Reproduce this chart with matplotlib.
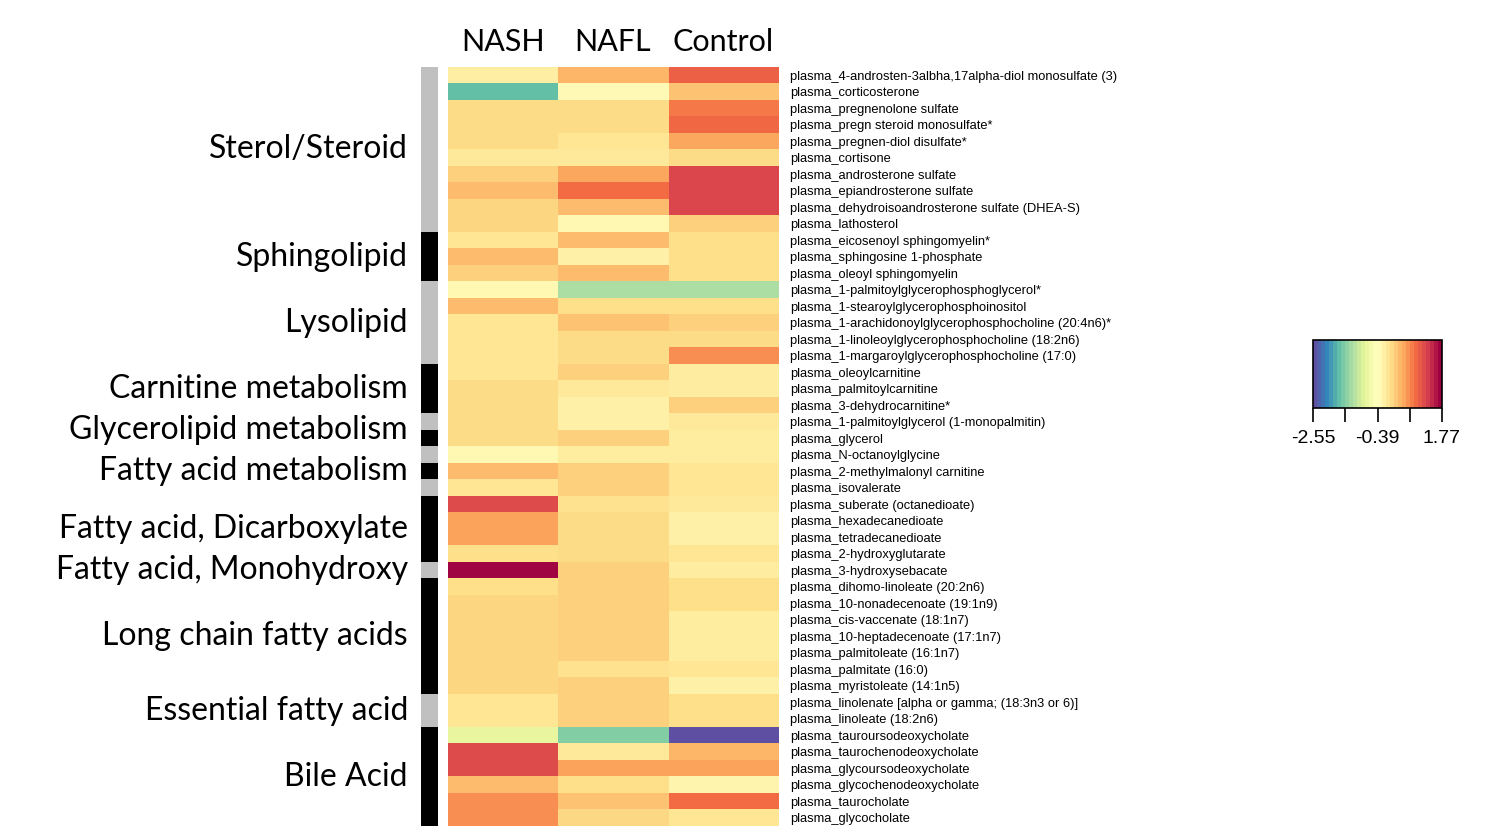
import numpy as np
import matplotlib
matplotlib.use("Agg")
import matplotlib.pyplot as plt
from matplotlib.colors import ListedColormap, Normalize
from matplotlib import transforms

# column groups
groups = ["NASH", "NAFL", "Control"]

metabolites = [
    "plasma_4-androsten-3albha,17alpha-diol monosulfate (3)",
    "plasma_corticosterone",
    "plasma_pregnenolone sulfate",
    "plasma_pregn steroid monosulfate*",
    "plasma_pregnen-diol disulfate*",
    "plasma_cortisone",
    "plasma_androsterone sulfate",
    "plasma_epiandrosterone sulfate",
    "plasma_dehydroisoandrosterone sulfate (DHEA-S)",
    "plasma_lathosterol",
    "plasma_eicosenoyl sphingomyelin*",
    "plasma_sphingosine 1-phosphate",
    "plasma_oleoyl sphingomyelin",
    "plasma_1-palmitoylglycerophosphoglycerol*",
    "plasma_1-stearoylglycerophosphoinositol",
    "plasma_1-arachidonoylglycerophosphocholine (20:4n6)*",
    "plasma_1-linoleoylglycerophosphocholine (18:2n6)",
    "plasma_1-margaroylglycerophosphocholine (17:0)",
    "plasma_oleoylcarnitine",
    "plasma_palmitoylcarnitine",
    "plasma_3-dehydrocarnitine*",
    "plasma_1-palmitoylglycerol (1-monopalmitin)",
    "plasma_glycerol",
    "plasma_N-octanoylglycine",
    "plasma_2-methylmalonyl carnitine",
    "plasma_isovalerate",
    "plasma_suberate (octanedioate)",
    "plasma_hexadecanedioate",
    "plasma_tetradecanedioate",
    "plasma_2-hydroxyglutarate",
    "plasma_3-hydroxysebacate",
    "plasma_dihomo-linoleate (20:2n6)",
    "plasma_10-nonadecenoate (19:1n9)",
    "plasma_cis-vaccenate (18:1n7)",
    "plasma_10-heptadecenoate (17:1n7)",
    "plasma_palmitoleate (16:1n7)",
    "plasma_palmitate (16:0)",
    "plasma_myristoleate (14:1n5)",
    "plasma_linolenate [alpha or gamma; (18:3n3 or 6)]",
    "plasma_linoleate (18:2n6)",
    "plasma_tauroursodeoxycholate",
    "plasma_taurochenodeoxycholate",
    "plasma_glycoursodeoxycholate",
    "plasma_glycochenodeoxycholate",
    "plasma_taurocholate",
    "plasma_glycocholate",
]

nash = [-0.17, -1.69, 0.08, 0.08, 0.08, -0.08, 0.17, 0.35, 0.13, 0.13,
        -0.04, 0.35, 0.17, -0.30, 0.35, -0.04, -0.04, -0.04, -0.04, 0.08,
        0.08, 0.08, 0.08, -0.30, 0.35, -0.04, 1.21, 0.55, 0.55, 0.04,
        1.75, 0.04, 0.13, 0.13, 0.13, 0.13, 0.13, 0.13, -0.04, -0.04,
        -0.73, 1.21, 1.21, 0.35, 0.69, 0.69]
nafl = [0.39, -0.32, 0.08, 0.08, -0.04, -0.08, 0.52, 0.91, 0.35, -0.30,
        0.35, -0.20, 0.35, -1.25, 0.04, 0.30, 0.08, 0.08, 0.17, -0.08,
        -0.20, -0.20, 0.17, -0.12, 0.17, 0.17, 0.00, 0.08, 0.08, 0.08,
        0.17, 0.17, 0.17, 0.17, 0.17, 0.17, 0.00, 0.17, 0.17, 0.17,
        -1.50, -0.08, 0.55, 0.04, 0.30, 0.10]
control = [1.00, 0.30, 0.82, 0.95, 0.52, 0.08, 1.25, 1.25, 1.25, 0.17,
           0.04, 0.04, 0.04, -1.25, 0.04, 0.17, 0.08, 0.69, -0.15, -0.15,
           0.17, -0.08, -0.12, -0.12, -0.04, -0.04, -0.08, -0.20, -0.20, -0.04,
           -0.15, 0.04, 0.04, -0.12, -0.12, -0.12, -0.04, -0.20, 0.04, 0.04,
           -2.55, 0.40, 0.55, -0.25, 0.91, -0.04]

# side bar shade per row (0 = grey, 1 = black)
side = [0] * 10 + [1] * 3 + [0] * 5 + [1] * 3 + [0, 1, 0, 1, 0] + [1] * 4 + [0] + [1] * 7 + [0] * 2 + [1] * 6

# pathway labels: (name, first row, last row)
pathways = [
    ("Sterol/Steroid", 0, 9),
    ("Sphingolipid", 10, 12),
    ("Lysolipid", 13, 17),
    ("Carnitine metabolism", 18, 20),
    ("Glycerolipid metabolism", 21, 22),
    ("Fatty acid metabolism", 23, 25),
    ("Fatty acid, Dicarboxylate", 26, 29),
    ("Fatty acid, Monohydroxy", 30, 30),
    ("Long chain fatty acids", 31, 37),
    ("Essential fatty acid", 38, 39),
    ("Bile Acid", 40, 45),
]

vmin, vmax = -2.55, 1.77
cbar_ticks = np.linspace(vmin, vmax, 5)

mat = np.column_stack([nash, nafl, control])
cmap = plt.get_cmap("Spectral_r")

W, H = 1492, 835
fig = plt.figure(figsize=(W / 100, H / 100), dpi=100)

ax = fig.add_axes([448 / W, 1 - 826 / H, 330 / W, 759 / H])
ax.imshow(mat, cmap=cmap, vmin=vmin, vmax=vmax, aspect="auto", interpolation="nearest")
for s in ax.spines.values():
    s.set_visible(False)
ax.xaxis.tick_top()
ax.set_xticks(range(len(groups)))
ax.set_xticklabels(groups, fontsize=22, family="Lato")
ax.tick_params(axis="x", length=0, pad=8)
ax.yaxis.tick_right()
ax.set_yticks(range(len(metabolites)))
ax.set_yticklabels(metabolites, fontsize=9.3, family="Liberation Sans")
ax.tick_params(axis="y", length=0, pad=9)

sax = fig.add_axes([421 / W, 1 - 826 / H, 17 / W, 759 / H])
sax.imshow(np.array(side)[:, None], cmap=ListedColormap(["#c0c0c0", "black"]),
           vmin=0, vmax=1, aspect="auto", interpolation="nearest")
sax.axis("off")

tr = transforms.blended_transform_factory(fig.transFigure, ax.transData)
for name, a, b in pathways:
    fig.text(408 / W, (a + b) / 2, name, transform=tr, ha="right", va="center",
             fontsize=23, family="Lato")

# color key
cax = fig.add_axes([1313 / W, 1 - 408 / H, 129 / W, 68 / H])
sm = plt.cm.ScalarMappable(norm=Normalize(vmin, vmax), cmap=cmap.resampled(32))
cb = fig.colorbar(sm, cax=cax, orientation="horizontal")
cb.set_ticks(cbar_ticks)
cb.set_ticklabels(["%.2f" % t if i % 2 == 0 else "" for i, t in enumerate(cbar_ticks)])
cb.outline.set_linewidth(1.2)
cax.tick_params(length=10, width=1.2, labelsize=14, pad=6)
for lbl in cax.get_xticklabels():
    lbl.set_family("Liberation Sans")

fig.savefig("out.png", dpi=100)
